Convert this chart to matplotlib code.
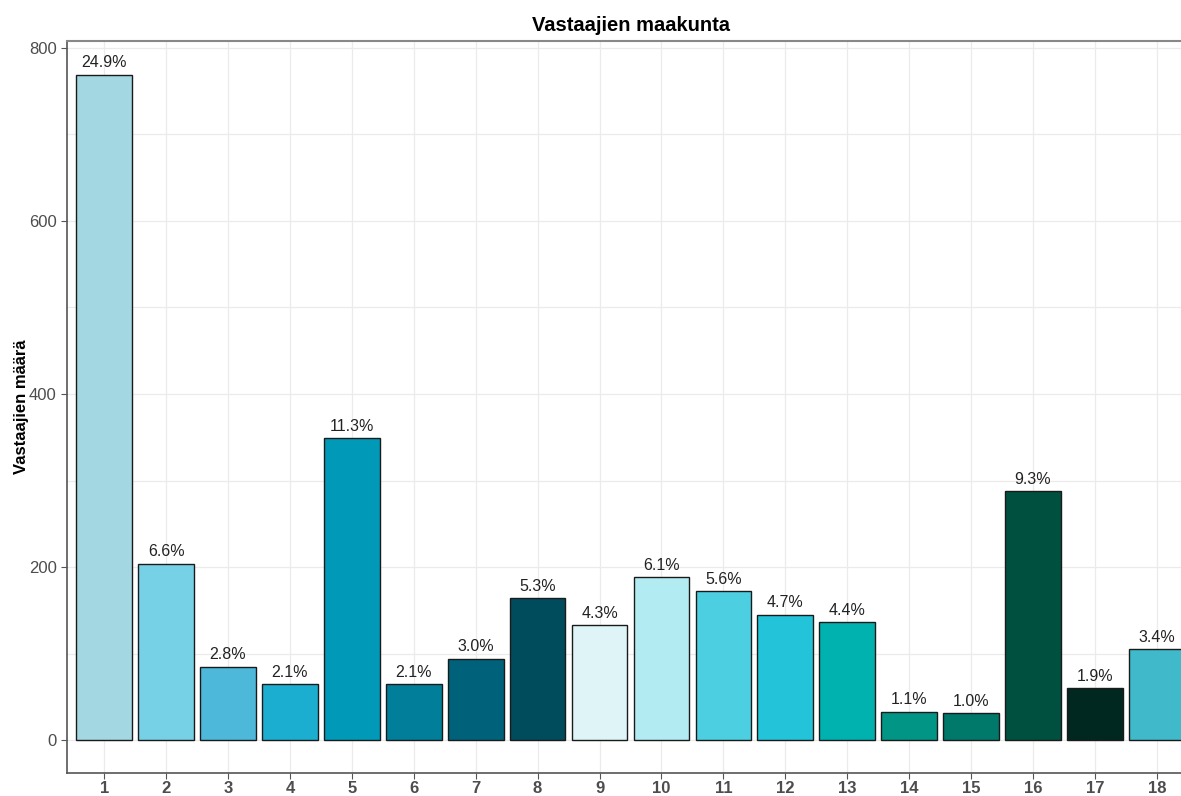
import matplotlib.pyplot as plt
import numpy as np

plt.rcParams['font.family'] = ['Liberation Sans', 'DejaVu Sans']

# respondents per region (maakunta code 1-18)
regions = list(range(1, 19))
counts = [769, 204, 85, 65, 349, 65, 94, 164, 133,
          188, 172, 145, 136, 33, 31, 288, 60, 105]
colors = ['#A3D8E2', '#77D1E6', '#4EB8DA', '#1CAED0', '#0099B8', '#007E9A',
          '#00617A', '#004B5C', '#DEF4F7', '#B2EBF2', '#4CCFE1', '#23C4D9',
          '#00B2AF', '#009585', '#00786A', '#00503F', '#002820', '#40B9CA']

total = sum(counts)
shares = [100 * c / total for c in counts]

fig = plt.figure(figsize=(11.81, 7.96), dpi=100)
# panel runs slightly past the right edge of the figure
ax = fig.add_axes([67 / 1181, 23 / 796, 1127 / 1181, 732 / 796])

ax.bar(regions, counts, width=0.9, color=colors, edgecolor='#1a1a1a',
       linewidth=1.0, zorder=3)
for x, c, s in zip(regions, counts, shares):
    ax.text(x, c + 5, f'{s:.1f}%', ha='center', va='bottom',
            fontsize=11.5, color='#222222', zorder=4)

ax.set_xlim(0.4, 18.6)
ax.set_ylim(-38, 808)
ax.set_xticks(regions)
ax.set_xticklabels([str(r) for r in regions], fontweight='bold')
ax.set_yticks([0, 200, 400, 600, 800])
ax.set_yticks(np.arange(100, 800, 200), minor=True)
ax.tick_params(axis='y', which='minor', length=0)
ax.tick_params(axis='both', which='major', length=4, color='#555555',
               labelcolor='#4d4d4d', labelsize=12)
ax.tick_params(axis='x', which='major', pad=2)
ax.grid(True, which='both', color='#ebebeb', linewidth=0.9, zorder=0)

for side in ['left', 'bottom']:
    ax.spines[side].set_color('#555555')
    ax.spines[side].set_linewidth(1.2)
ax.spines['top'].set_color('#888888')
ax.spines['top'].set_linewidth(1.5)
ax.spines['right'].set_color('#888888')

ax.set_title('Vastaajien maakunta', fontsize=14.5, fontweight='bold', pad=7)
ax.set_ylabel('Vastaajien määrä', fontsize=12, fontweight='bold', labelpad=0)

fig.savefig('out.png', dpi=100)
